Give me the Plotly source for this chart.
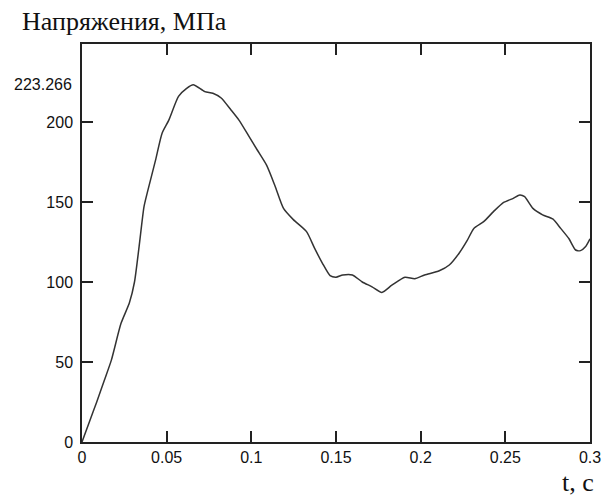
import plotly.graph_objects as go

t_values = [0.0, 0.0045, 0.0087, 0.013, 0.0173, 0.023, 0.028, 0.031, 0.0337, 0.0366, 0.0386,
            0.0434, 0.0473, 0.0512, 0.057, 0.0618, 0.0657, 0.0725, 0.0773, 0.0822, 0.088,
            0.0928, 0.0986, 0.1035, 0.109, 0.114, 0.119, 0.1248, 0.1326, 0.1374, 0.142,
            0.1465, 0.15, 0.154, 0.1597, 0.1655, 0.1713, 0.1771, 0.183, 0.1907, 0.1965,
            0.2023, 0.211, 0.2169, 0.2227, 0.2275, 0.2314, 0.2372, 0.243, 0.2488, 0.2547,
            0.2585, 0.2614, 0.2663, 0.272, 0.278, 0.2827, 0.2876, 0.2915, 0.2944, 0.2973, 0.3]
stress_values = [0.0, 13, 25, 38, 51, 74, 87, 100, 122, 147, 156,
                 176, 193, 201, 216, 221, 223.266, 219, 218, 215, 207.5,
                 201, 191, 182.5, 173, 160, 146, 139, 131.5, 121, 111.7,
                 104, 103, 104.4, 104.4, 100, 97, 93.5, 98, 103, 102,
                 104.4, 107, 110.6, 118, 126, 133.5, 137.7, 144, 149.6, 152.3,
                 154.4, 153.3, 146, 142, 139.4, 133.5, 127, 120, 119.6, 122, 127]
x_ticks = [0, 0.05, 0.1, 0.15, 0.2, 0.25, 0.3]
x_tick_labels = ["0", "0.05", "0.1", "0.15", "0.2", "0.25", "0.3"]
y_ticks = [0, 50, 100, 150, 200]
y_tick_labels = ["0", "50", "100", "150", "200"]
y_title = "Напряжения, МПа"
x_title = "t, c"

peak = max(stress_values)

fig = go.Figure()
fig.add_trace(go.Scatter(x=t_values, y=stress_values, mode="lines",
                         line=dict(color="#333333", width=1.5, shape="spline", smoothing=0.6),
                         showlegend=False))

tick_font = dict(family="Liberation Sans", size=16, color="#111111")
serif_font = dict(family="Liberation Serif", size=26, color="#111111")
fig.update_xaxes(range=[0, 0.3], tickvals=x_ticks, ticktext=x_tick_labels,
                 ticks="inside", ticklen=11, tickwidth=1.5, tickcolor="#222222",
                 showline=True, linecolor="#222222", linewidth=1.5, mirror="ticks",
                 showgrid=False, zeroline=False, tickfont=tick_font)
fig.update_yaxes(range=[0, 248.75], tickvals=y_ticks, ticktext=y_tick_labels,
                 ticks="inside", ticklen=11, tickwidth=1.5, tickcolor="#222222",
                 showline=True, linecolor="#222222", linewidth=1.5, mirror="ticks",
                 showgrid=False, zeroline=False, tickfont=tick_font, ticklabelstandoff=4)

fig.add_annotation(x=0, xref="paper", y=peak, yref="y", text=f"{peak:.3f}",
                   showarrow=False, xanchor="right", xshift=-8, font=tick_font)
fig.add_annotation(x=0, xref="paper", y=1, yref="paper", text=y_title,
                   showarrow=False, xanchor="left", yanchor="bottom", xshift=-62, yshift=6,
                   font=serif_font)
fig.add_annotation(x=1, xref="paper", y=0, yref="paper", text=x_title,
                   showarrow=False, xanchor="right", yanchor="top", xshift=6, yshift=-24,
                   font=serif_font)

# page body has an 8px margin, so the figure is 8px smaller on each axis
fig.update_layout(width=605, height=493, margin=dict(l=74, r=15, t=36, b=59),
                  plot_bgcolor="white", paper_bgcolor="white")
fig.write_html("out.html")
